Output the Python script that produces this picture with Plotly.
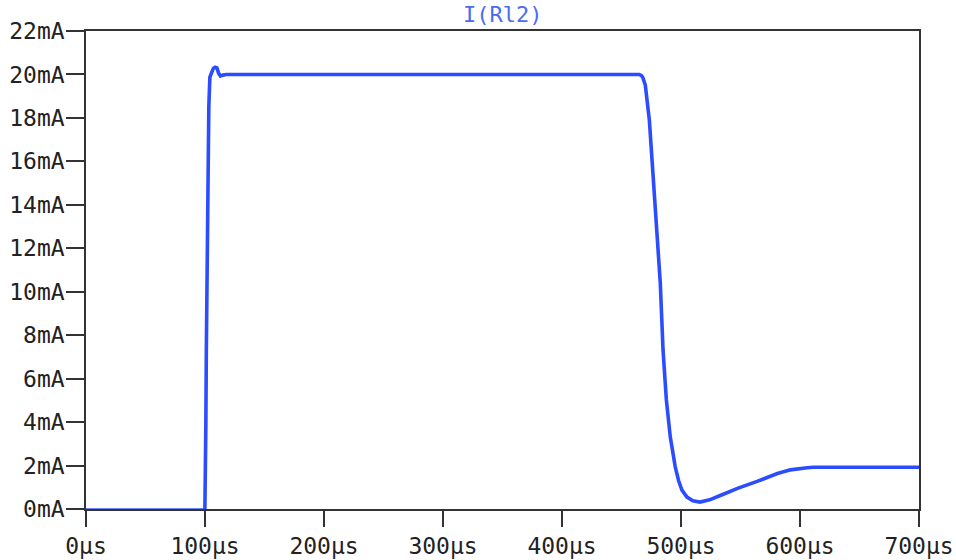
import plotly.graph_objects as go

# Baseline segment (thin line) before the pulse
t_base = [0, 100.0]
i_base = [0.0, 0.0]

# Pulse response (time in µs, current in mA)
t_us = [99.9, 100.2, 100.7, 101.1, 102.0, 102.4, 103.2, 104.1, 105.5, 107.0, 108.5, 110.0,
        111.5, 113.0, 115.0, 118.0, 300.0, 465.0, 466.8, 468.0, 470.0, 471.7, 473.4, 475.1,
        476.8, 478.4, 480.1, 481.5, 482.6, 484.9, 487.7, 491.0, 495.2, 498.0, 500.8, 505.0,
        510.0, 516.0, 524.0, 533.0, 548.0, 564.0, 581.0, 592.0, 600.0, 606.0, 611.0, 700.0]
i_ma = [0.0, 0.8, 3.77, 7.18, 11.46, 15.46, 18.5, 19.88, 20.1, 20.28, 20.33, 20.3,
        20.05, 19.93, 19.97, 20.0, 20.0, 20.0, 19.95, 19.85, 19.51, 18.82, 17.9, 16.52,
        15.14, 13.76, 12.52, 11.6, 10.4, 7.32, 5.02, 3.31, 1.93, 1.3, 0.87, 0.55,
        0.38, 0.32, 0.42, 0.62, 0.96, 1.27, 1.63, 1.8, 1.87, 1.9, 1.92, 1.92]

x_ticks = [0, 100, 200, 300, 400, 500, 600, 700]
x_labels = ["0µs", "100µs", "200µs", "300µs", "400µs", "500µs", "600µs", "700µs"]
y_ticks = [0, 2, 4, 6, 8, 10, 12, 14, 16, 18, 20, 22]
y_labels = ["0mA", "2mA", "4mA", "6mA", "8mA", "10mA", "12mA", "14mA", "16mA",
            "18mA", "20mA", "22mA"]

line_color = "#2b4dff"
font_fam = "DejaVu Sans Mono"

fig = go.Figure()
fig.add_trace(go.Scatter(x=t_base, y=i_base, mode="lines",
                         line=dict(color="#3a5cff", width=1.6), hoverinfo="skip"))
fig.add_trace(go.Scatter(x=t_us, y=i_ma, mode="lines",
                         line=dict(color=line_color, width=3.6)))

fig.update_layout(
    width=956, height=560,
    margin=dict(l=86, r=37, t=31, b=51),
    paper_bgcolor="white", plot_bgcolor="white",
    showlegend=False,
    font=dict(family=font_fam, size=23, color="#222222"),
)
fig.update_xaxes(
    range=[0, 700], tickvals=x_ticks, ticktext=x_labels,
    showgrid=False, zeroline=False, automargin=False,
    showline=True, mirror=True, linecolor="#333333", linewidth=1.5,
    ticks="outside", ticklen=16, tickwidth=1.5, tickcolor="#333333",
    tickfont=dict(family=font_fam, size=23, color="#222222"),
)
fig.update_yaxes(
    range=[0, 22], tickvals=y_ticks, ticktext=y_labels,
    showgrid=False, zeroline=False, automargin=False,
    showline=True, mirror=True, linecolor="#333333", linewidth=1.5,
    ticks="outside", ticklen=18, tickwidth=1.5, tickcolor="#333333",
    tickfont=dict(family=font_fam, size=23, color="#222222"),
    ticklabelstandoff=-3,
)
fig.add_annotation(
    text="I(Rl2)", xref="paper", yref="paper", x=0.5, y=1,
    xanchor="center", yanchor="bottom", yshift=2, showarrow=False,
    font=dict(family=font_fam, size=22, color="#4a6cf0"),
)

fig.write_html("out.html")
